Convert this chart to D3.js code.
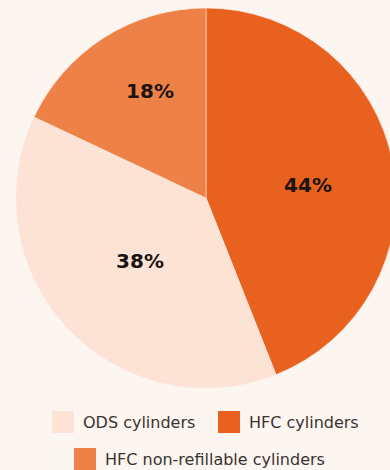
<!DOCTYPE html>
<html><head><meta charset="utf-8">
<script src="https://cdn.jsdelivr.net/npm/d3@7"></script>
<style>
html,body{margin:0;padding:0;background:#fdf5f0;}
svg{display:block;}
</style></head>
<body>
<svg id="chart" width="390" height="470"></svg>
<script>
const categories = ["HFC cylinders", "ODS cylinders", "HFC non-refillable cylinders"];
const values = [44, 38, 18];
const labels = ["44%", "38%", "18%"];
const colors = ["#e8611e", "#fce3d5", "#ee8147"];
const legendRows = [["ODS cylinders", "HFC cylinders"], ["HFC non-refillable cylinders"]];

const svg = d3.select("#chart");
const cx = 206, cy = 198, r = 190;
const data = categories.map((c, i) => ({cat: c, value: values[i], label: labels[i], color: colors[i]}));

const pie = d3.pie().value(d => d.value).sort(null);
const arc = d3.arc().innerRadius(0).outerRadius(r);
const g = svg.append("g").attr("transform", `translate(${cx},${cy})`);
const arcs = pie(data);
g.selectAll("path").data(arcs).join("path")
  .attr("d", arc)
  .attr("fill", d => d.data.color)
  .attr("stroke", "#fbe9df").attr("stroke-width", 0.6);

const labelPos = [[102, -13], [-66, 63], [-56, -107]];
g.selectAll("text.lbl").data(arcs).join("text")
  .attr("class", "lbl")
  .attr("x", (d, i) => labelPos[i][0])
  .attr("y", (d, i) => labelPos[i][1])
  .attr("text-anchor", "middle")
  .attr("dominant-baseline", "central")
  .attr("font-family", "'DejaVu Sans', sans-serif")
  .attr("font-weight", "bold")
  .attr("font-size", 20)
  .attr("fill", "#1c1410")
  .text(d => d.data.label);

const colorOf = c => colors[categories.indexOf(c)];
const lg = svg.append("g").attr("font-family", "'DejaVu Sans', sans-serif").attr("font-size", 16).attr("fill", "#3a3330");
const rowStarts = [[52, 218], [74]];
const rowY = [411, 448];
legendRows.forEach((row, ri) => {
  row.forEach((c, ci) => {
    const x = rowStarts[ri][ci];
    lg.append("rect").attr("x", x).attr("y", rowY[ri]).attr("width", 22).attr("height", 22).attr("fill", colorOf(c));
    lg.append("text").attr("x", x + 31).attr("y", rowY[ri] + 16.5).text(c);
  });
});
</script>
</body></html>
